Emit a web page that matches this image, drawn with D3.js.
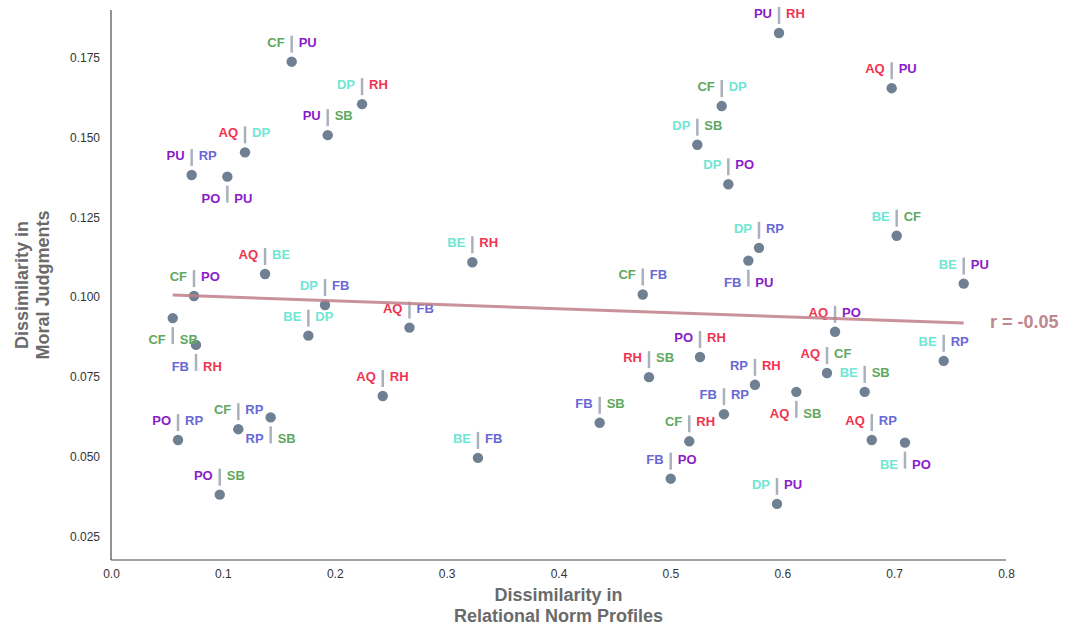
<!DOCTYPE html>
<html>
<head>
<meta charset="utf-8">
<script src="https://cdn.jsdelivr.net/npm/d3@7"></script>
<style>
  body { margin: 0; background: #fff; }
  svg { display: block; font-family: "Liberation Sans", Arial, sans-serif; }
</style>
</head>
<body>
<div id="chart"></div>
<script>
// relationship pairs, shown as [left label, right label]
const pairs = [
  ["CF","PU"], ["DP","RH"], ["PU","SB"], ["AQ","DP"], ["PU","RP"], ["PO","PU"],
  ["AQ","BE"], ["CF","PO"], ["DP","FB"], ["BE","DP"], ["AQ","FB"], ["CF","SB"],
  ["FB","RH"], ["AQ","RH"], ["BE","RH"], ["CF","FB"], ["PO","RH"], ["RH","SB"],
  ["FB","SB"], ["CF","RH"], ["FB","PO"], ["DP","PU"], ["FB","RP"], ["RP","RH"],
  ["AQ","SB"], ["BE","SB"], ["AQ","CF"], ["AQ","PO"], ["BE","RP"], ["AQ","RP"],
  ["BE","PO"], ["BE","PU"], ["BE","CF"], ["DP","RP"], ["FB","PU"], ["DP","PO"],
  ["DP","SB"], ["CF","DP"], ["AQ","PU"], ["PU","RH"], ["PO","RP"], ["CF","RP"],
  ["RP","SB"], ["PO","SB"], ["BE","FB"]
];

// dissimilarity in relational norm profiles
const normDiss = [
  0.1615, 0.2244, 0.1937, 0.1198, 0.0721, 0.1040,
  0.1377, 0.0742, 0.1913, 0.1764, 0.2668, 0.0552,
  0.0760, 0.2429, 0.3230, 0.4753, 0.5265, 0.4809,
  0.4368, 0.5169, 0.5003, 0.5953, 0.5479, 0.5756,
  0.6126, 0.6737, 0.6400, 0.6472, 0.7443, 0.6800,
  0.7097, 0.7622, 0.7023, 0.5792, 0.5697, 0.5518,
  0.5241, 0.5459, 0.6978, 0.5971, 0.0599, 0.1138,
  0.1427, 0.0972, 0.3280
];

// dissimilarity in moral judgments
const moralDiss = [
  0.1737, 0.1604, 0.1507, 0.1453, 0.1382, 0.1377,
  0.1072, 0.1003, 0.0975, 0.0879, 0.0904, 0.0934,
  0.0850, 0.0690, 0.1109, 0.1008, 0.0812, 0.0749,
  0.0606, 0.0548, 0.0431, 0.0352, 0.0633, 0.0725,
  0.0703, 0.0703, 0.0762, 0.0891, 0.0800, 0.0552,
  0.0544, 0.1042, 0.1192, 0.1154, 0.1114, 0.1353,
  0.1477, 0.1598, 0.1654, 0.1827, 0.0552, 0.0586,
  0.0623, 0.0381, 0.0496
];

// pairs whose label sits under the dot
const labelBelow = ["PO|PU", "CF|SB", "FB|RH", "RP|SB", "FB|PU", "AQ|SB", "BE|PO"];

const xTicks = [0.0, 0.1, 0.2, 0.3, 0.4, 0.5, 0.6, 0.7, 0.8];
const yTicks = [0.025, 0.050, 0.075, 0.100, 0.125, 0.150, 0.175];

const codeColor = {
  AQ: "#f2334f", RH: "#f2334f",
  BE: "#70e6d4", DP: "#70e6d4",
  CF: "#60a860", SB: "#60a860",
  FB: "#6868d6", RP: "#6868d6",
  PO: "#8a1cc8", PU: "#8a1cc8"
};

const width = 1080, height = 627;
const mLeft = 111, mRight = 1006, mTop = 10, mBottom = 560;

const svg = d3.select("#chart").append("svg")
  .attr("width", width)
  .attr("height", height);

const x = d3.scaleLinear().domain([0, 0.8]).range([mLeft, mRight]);
const y = d3.scaleLinear().domain([0.01763, 0.18989]).range([mBottom, mTop]);

const points = pairs.map((p, i) => ({
  a: p[0], b: p[1], x: normDiss[i], y: moralDiss[i],
  below: labelBelow.includes(p[0] + "|" + p[1])
}));

// axes (no tick marks, seaborn white style)
const xAxis = svg.append("g")
  .attr("transform", `translate(0,${mBottom})`)
  .call(d3.axisBottom(x).tickValues(xTicks).tickFormat(d3.format(".1f")).tickSize(0).tickPadding(9));
const yAxis = svg.append("g")
  .attr("transform", `translate(${mLeft},0)`)
  .call(d3.axisLeft(y).tickValues(yTicks).tickFormat(d3.format(".3f")).tickSize(0).tickPadding(11));

[xAxis, yAxis].forEach(g => {
  g.select(".domain").attr("stroke", "#4a4a4a").attr("stroke-width", 1.2);
  g.selectAll("text").style("font-size", "12px").attr("fill", "#333");
});
yAxis.select(".domain").attr("d", `M0,${mTop}V${mBottom}`);
xAxis.select(".domain").attr("d", `M${mLeft},0H${mRight}`);

// axis titles
svg.append("text")
  .attr("x", (mLeft + mRight) / 2).attr("y", 601)
  .attr("text-anchor", "middle")
  .style("font-size", "18px").style("font-weight", "bold").attr("fill", "#6a6a6a")
  .selectAll("tspan")
  .data(["Dissimilarity in", "Relational Norm Profiles"])
  .enter().append("tspan")
  .attr("x", (mLeft + mRight) / 2)
  .attr("dy", (d, i) => i ? 21 : 0)
  .text(d => d);

svg.append("text")
  .attr("transform", `translate(28,${(mTop + mBottom) / 2}) rotate(-90)`)
  .attr("text-anchor", "middle")
  .style("font-size", "18px").style("font-weight", "bold").attr("fill", "#6a6a6a")
  .selectAll("tspan")
  .data(["Dissimilarity in", "Moral Judgments"])
  .enter().append("tspan")
  .attr("x", 0)
  .attr("dy", (d, i) => i ? 21 : 0)
  .text(d => d);

// dots
svg.append("g").selectAll("circle")
  .data(points)
  .enter().append("circle")
  .attr("cx", d => x(d.x))
  .attr("cy", d => y(d.y))
  .attr("r", 5.2)
  .attr("fill", "#6f8092");

// labels: a short vertical bar with one code on each side
const lab = svg.append("g").selectAll("g")
  .data(points)
  .enter().append("g")
  .attr("transform", d => `translate(${x(d.x)},${y(d.y)})`);

lab.append("line")
  .attr("y1", d => d.below ? 9 : -26)
  .attr("y2", d => d.below ? 26 : -9)
  .attr("stroke", "#a9b1bd")
  .attr("stroke-width", 2.5);

lab.append("text")
  .attr("x", -7)
  .attr("y", d => d.below ? 26 : -15)
  .attr("text-anchor", "end")
  .style("font-size", "13px").style("font-weight", "bold")
  .attr("fill", d => codeColor[d.a])
  .text(d => d.a);

lab.append("text")
  .attr("x", 7)
  .attr("y", d => d.below ? 26 : -15)
  .attr("text-anchor", "start")
  .style("font-size", "13px").style("font-weight", "bold")
  .attr("fill", d => codeColor[d.b])
  .text(d => d.b);

// least squares fit across the x range of the data
const mx = d3.mean(normDiss), my = d3.mean(moralDiss);
const slope = d3.sum(normDiss, (v, i) => (v - mx) * (moralDiss[i] - my)) /
              d3.sum(normDiss, v => (v - mx) * (v - mx));
const icpt = my - slope * mx;
const [x0, x1] = d3.extent(normDiss);

svg.append("line")
  .attr("x1", x(x0)).attr("y1", y(icpt + slope * x0))
  .attr("x2", x(x1)).attr("y2", y(icpt + slope * x1))
  .attr("stroke", "#bf7f88")
  .attr("stroke-opacity", 0.85)
  .attr("stroke-width", 3);

svg.append("text")
  .attr("x", 990).attr("y", 328)
  .style("font-size", "18px").style("font-weight", "bold")
  .attr("fill", "#c0868e")
  .text("r = -0.05");
</script>
</body>
</html>
